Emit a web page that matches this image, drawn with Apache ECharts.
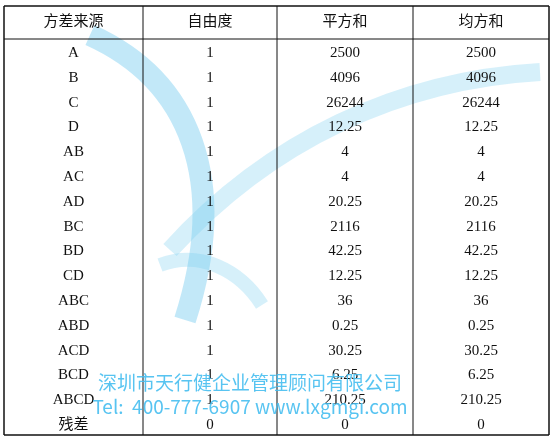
<!DOCTYPE html>
<html><head><meta charset="utf-8">
<script src="https://cdn.jsdelivr.net/npm/echarts@6/dist/echarts.min.js"></script>
<style>html,body{margin:0;padding:0;background:#fff}#main{width:558px;height:438px}</style>
</head><body><div id="main"></div>
<script>
const headers = ['方差来源', '自由度', '平方和', '均方和'];
const sources = ['A','B','C','D','AB','AC','AD','BC','BD','CD','ABC','ABD','ACD','BCD','ABCD','残差'];
const dof = ['1','1','1','1','1','1','1','1','1','1','1','1','1','1','1','0'];
const sumSq = ['2500','4096','26244','12.25','4','4','20.25','2116','42.25','12.25','36','0.25','30.25','6.25','210.25','0'];
const meanSq = ['2500','4096','26244','12.25','4','4','20.25','2116','42.25','12.25','36','0.25','30.25','6.25','210.25','0'];

const colX = [4, 143, 277, 413, 549];
const tableTop = 6, headY = 39, tableBottom = 435;
const rowY0 = 53, rowH = 24.8;
const font = '"Liberation Serif","Noto Sans CJK SC",serif';

const els = [];
// watermark logo swooshes (thick light strokes)
const swoosh = (x1,y1,cpx1,cpy1,cpx2,cpy2,x2,y2,w,a) => els.push({type:'bezierCurve',
  shape:{x1,y1,cpx1,cpy1,cpx2,cpy2,x2,y2}, style:{stroke:'rgba(120,205,240,'+a+')', lineWidth:w, fill:null}, z:1});
swoosh(90,35, 190,80, 230,180, 185,320, 22, 0.45);
swoosh(170,250, 270,140, 400,80, 540,72, 18, 0.3);
swoosh(160,265, 200,250, 240,270, 262,305, 14, 0.3);

const line = (x1,y1,x2,y2,w) => els.push({type:'line', shape:{x1,y1,x2,y2}, style:{stroke:'#111', lineWidth:w}, z:5});
line(colX[0], tableTop, colX[4], tableTop, 1.5);
line(colX[0], headY, colX[4], headY, 1);
line(colX[0], tableBottom, colX[4], tableBottom, 1.5);
colX.forEach((x,i) => line(x, tableTop, x, tableBottom, i===0||i===4 ? 1.5 : 1));

const cell = (text, col, y) => els.push({type:'text', x:(colX[col]+colX[col+1])/2, y,
  style:{text, fill:'#111', font:'15px '+font, align:'center', verticalAlign:'middle'}, z:6});
headers.forEach((h,c) => cell(h, c, 22));
sources.forEach((s,i) => {
  const y = rowY0 + i*rowH;
  cell(s,0,y); cell(dof[i],1,y); cell(sumSq[i],2,y); cell(meanSq[i],3,y);
});
const wm = (text, y) => els.push({type:'text', x:250, y, style:{text, fill:'rgba(70,190,240,0.9)', font:'19px "Noto Sans CJK SC",sans-serif', align:'center', verticalAlign:'middle'}, z:7});
wm('深圳市天行健企业管理顾问有限公司', 383);
wm('Tel:  400-777-6907 www.lxgmgi.com', 407);

const chart = echarts.init(document.getElementById('main'));
chart.setOption({animation:false, graphic:{elements:els}});
</script></body></html>
